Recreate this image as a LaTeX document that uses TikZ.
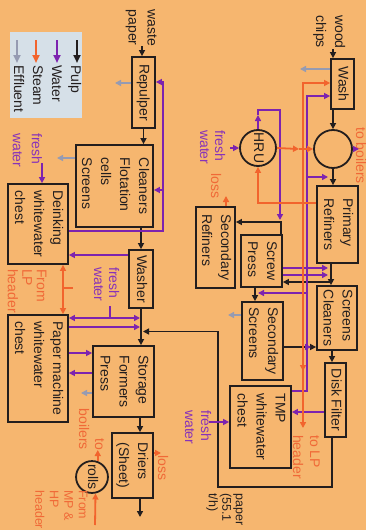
\documentclass[tikz,border=0pt]{standalone}
\usepackage{fontspec}
\setmainfont{Liberation Sans}
\usepackage{graphicx}
\usetikzlibrary{arrows.meta}
\definecolor{bgc}{RGB}{246,182,111}
\definecolor{legbg}{RGB}{214,224,232}
\definecolor{pulpc}{RGB}{35,30,30}
\definecolor{waterc}{RGB}{125,35,175}
\definecolor{steamc}{RGB}{242,100,45}
\definecolor{effc}{RGB}{150,155,178}
\definecolor{steamtxt}{RGB}{240,105,55}
\definecolor{watertxt}{RGB}{135,50,185}
\newcommand{\vt}[2][l]{\rotatebox{-90}{\begin{tabular}{@{}#1@{}}#2\end{tabular}}}
\begin{document}
\begin{tikzpicture}[x=1pt,y=-1pt,
  box/.style={draw=pulpc, line width=1.8pt, inner sep=0pt, text=pulpc, font=\fontsize{14}{19}\selectfont},
  circ/.style={draw=pulpc, line width=1.8pt, circle, inner sep=0pt, text=pulpc, font=\fontsize{14}{19}\selectfont},
  lbl/.style={inner sep=0pt, text=pulpc, font=\fontsize{14}{16}\selectfont},
  wlbl/.style={lbl, text=watertxt},
  slbl/.style={lbl, text=steamtxt},
  flow/.style={line width=1.8pt, -{Triangle[length=6pt,width=6pt]}},
  pulp/.style={flow, draw=pulpc},
  water/.style={flow, draw=waterc},
  steam/.style={flow, draw=steamc},
  eff/.style={flow, line width=1.4pt, draw=effc},
  legarrow/.style={line width=2pt, -{Triangle[length=8pt,width=7pt]}}
]
\useasboundingbox (0,0) rectangle (366,530);
\clip (0,0) rectangle (366,530);
\fill[bgc] (0,0) rectangle (366,530);

\foreach \v in {63,140,218,226,255,281,331,332,333} \coordinate (cx\v) at (\v,0);
\foreach \v in {69,82,83,96,148,149,158,177,190,203,222,231,255,268,275,282,288,293,315,318,327,331,347,353,373,391,393,412,422,450,453} \coordinate (cy\v) at (0,\v);

% legend
\fill[legbg] (10,32) rectangle (82,118);
\node[lbl, font=\fontsize{14}{19}\selectfont, anchor=north] (legtext) at (46.5,65) {\vt{Pulp\\Water\\Steam\\Effluent}};
\coordinate (l1a) at (77,40); \coordinate (l1b) at (77,63);
\coordinate (l2a) at (57,40); \coordinate (l2b) at (57,63);
\coordinate (l3a) at (36,40); \coordinate (l3b) at (36,63);
\coordinate (l4a) at (17,40); \coordinate (l4b) at (17,63);
\draw[legarrow, draw=pulpc] (l1a) -- (l1b);
\draw[legarrow, draw=waterc] (l2a) -- (l2b);
\draw[legarrow, draw=steamc] (l3a) -- (l3b);
\draw[legarrow, draw=effc] (l4a) -- (l4b);

% boxes
\node[box, minimum width=23pt, minimum height=71pt] (repulper) at (143.5,92.5) {\vt{Repulper}};
\node[box, minimum width=77pt, minimum height=82pt] (cleaners) at (114.5,186) {\vt{Cleaners\\Flotation\\cells\\Screens}};
\node[box, minimum width=60pt, minimum height=80pt] (deink) at (38,224) {\vt{Deinking\\whitewater\\chest}};
\node[box, minimum width=24pt, minimum height=58pt] (washer) at (141,279) {\vt{Washer}};
\node[box, minimum width=60pt, minimum height=107pt] (pm) at (38,368.5) {\vt{Paper machine\\whitewater\\chest}};
\node[box, minimum width=61pt, minimum height=71pt] (storage) at (123.5,381.5) {\vt{Storage\\Formers\\Press}};
\node[box, minimum width=41pt, minimum height=65pt] (driers) at (132.5,465.5) {\vt{Driers\\(Sheet)}};
\node[circ, minimum size=30pt] (rolls) at (92,477) {\vt{rolls}};
\node[box, minimum width=23pt, minimum height=50pt] (wash) at (342.5,84) {\vt{Wash}};
\node[circ, minimum size=38pt] (sep) at (333,149) {};
\node[circ, minimum size=36pt] (hru) at (258,148) {\vt{HRU}};
\node[box, minimum width=41pt, minimum height=77pt] (primary) at (337.5,224.5) {\vt{Primary\\Refiners}};
\node[box, minimum width=39pt, minimum height=81pt] (secref) at (215.5,247.5) {\vt{Secondary\\Refiners}};
\node[box, minimum width=41pt, minimum height=52pt] (screw) at (261.5,261) {\vt{Screw\\Press}};
\node[box, minimum width=41pt, minimum height=78pt] (secscr) at (262.5,341) {\vt{Secondary\\Screens}};
\node[box, minimum width=40pt, minimum height=64pt] (screens) at (337,318) {\vt{Screens\\Cleaners}};
\node[box, minimum width=21pt, minimum height=74pt] (disk) at (335.5,400) {\vt{Disk Filter}};
\node[box, minimum width=61pt, minimum height=82pt] (tmp) at (260.5,427) {\vt{TMP\\whitewater\\chest}};

% labels
\node[lbl, font=\fontsize{14}{19}\selectfont] (wastelbl) at (142,28) {\vt{waste\\paper}};
\node[lbl, font=\fontsize{14}{19}\selectfont, anchor=north] (woodlbl) at (329.3,15) {\vt{wood\\chips}};
\node[wlbl, font=\fontsize{14}{19}\selectfont, anchor=north] (fw1lbl) at (26.3,133) {\vt{fresh\\water}};
\node[wlbl, font=\fontsize{14}{15}\selectfont, anchor=north] (fw2lbl) at (104.5,267) {\vt{fresh\\water}};
\node[wlbl, font=\fontsize{14}{15}\selectfont, anchor=north] (fw3lbl) at (210.5,130) {\vt{fresh\\water}};
\node[wlbl, font=\fontsize{14}{16}\selectfont, anchor=north] (fw4lbl) at (196.2,410) {\vt{fresh\\water}};
\node[slbl, font=\fontsize{14}{14.5}\selectfont, anchor=north] (lplbl) at (25.3,269) {\vt{From\\LP\\header}};
\node[slbl, font=\fontsize{14}{17}\selectfont, anchor=north] (tolplbl) at (304.9,435) {\vt{to LP\\header}};
\node[slbl, font=\fontsize{12.5}{14.5}\selectfont, anchor=north] (mphplbl) at (60,490) {\vt{From\\MP \&\\HP\\header}};
\node[slbl, font=\fontsize{14}{16}\selectfont, anchor=south] (toblbl) at (90.2,450) {\vt[r]{to\\boilers}};
\node[slbl, anchor=north] (tob2lbl) at (359.2,127) {\vt{to boilers}};
\node[slbl] (loss1lbl) at (214.2,186) {\vt{loss}};
\node[slbl] (loss2lbl) at (161.2,468) {\vt{loss}};
\node[lbl, font=\fontsize{12.5}{13.5}\selectfont, anchor=north] (paperlbl) at (225,493) {\vt{paper\\(55.1\\t/h)}};

% free ends
\coordinate (t1) at (332,487); \coordinate (t2) at (218,487);
\coordinate (t3) at (218,331.5); \coordinate (t4) at (143,331.5);
\coordinate (pout) at (140,517);
\coordinate (pj) at (331,282); \coordinate (p222) at (281,222);
\coordinate (w1) at (163,231); \coordinate (w2) at (163,82); \coordinate (w3) at (163,190);
\coordinate (fw1) at (42,163);
\coordinate (fwtick) at (110,306); \coordinate (fwj) at (110,318);
\coordinate (w318e) at (140,318); \coordinate (w327e) at (140,327);
\coordinate (v391) at (307,391); \coordinate (v96) at (307,96);
\coordinate (v177) at (307,177); \coordinate (w177e) at (328,177);
\coordinate (w268e) at (328,268); \coordinate (w275e) at (328,275);
\coordinate (v293) at (307,293); \coordinate (w293e) at (258,293);
\coordinate (v347) at (305,347); \coordinate (w347e) at (311,347);
\coordinate (fw4) at (209,422); \coordinate (fw3) at (230,148);
\coordinate (h1) at (258,115); \coordinate (h2) at (258,110);
\coordinate (h3) at (280,110); \coordinate (h4) at (280,220);
\coordinate (tob) at (359,149);
\coordinate (s428) at (303,428); \coordinate (s83) at (303,83);
\coordinate (s362) at (303,362); \coordinate (s371) at (303,371);
\coordinate (s299) at (299,149); \coordinate (s203) at (258,203);
\coordinate (s196) at (226,196);
\coordinate (s288) at (63,288); \coordinate (s288b) at (73,288);
\coordinate (s453) at (161,453);
\coordinate (s525) at (95,525);
\coordinate (e1) at (115,83); \coordinate (e2) at (57,158);
\coordinate (e3) at (81,393); \coordinate (e4) at (300,69);
\coordinate (e5) at (228,315);

% pulp
\draw[pulp] (wastelbl.south) -- (wastelbl.south |- repulper.north);
\draw[pulp] (repulper.south) -- (repulper.south |- cleaners.north);
\draw[pulp] (washer.north |- cleaners.south) -- (washer.north);
\draw[pulp] (washer.south) -- (washer.south |- storage.north);
\draw[pulp] (cx332 |- disk.south) -- (t1) -- (t2) -- (t3) -- (t4);
\draw[pulp] (cx140 |- storage.south) -- (cx140 |- driers.north);
\draw[pulp] (cx140 |- driers.south) -- (pout);
\draw[pulp] (woodlbl.south -| cx333) -- (cx333 |- wash.north);
\draw[pulp] (cx333 |- wash.south) -- (sep.north);
\draw[pulp] (sep.south) -- (cx333 |- primary.north);
\draw[pulp] (cx331 |- primary.south) -- (cx331 |- screens.north);
\draw[pulp] (pj) -- (pj -| screw.east);
\draw[pulp] (cx281 |- screw.north) -- (p222) -- (p222 -| secref.east);
\draw[pulp] (cx255 |- screw.south) -- (cx255 |- secscr.north);
\draw[pulp] (secscr.east |- cy347) -- (screens.west |- cy347);
\draw[pulp] (cx332 |- screens.south) -- (cx332 |- disk.north);

% water
\draw[water] (deink.east |- cy231) -- (w1) -- (w2) -- (w2 -| repulper.east);
\draw[water] (w3) -- (w3 -| cleaners.east);
\draw[water] (fw1) -- (fw1 |- deink.north);
\draw[water] (washer.west |- cy255) -- (deink.east |- cy255);
\draw[water, -] (fwtick) -- (fwj);
\draw[water] (fwj) -- (fwj -| pm.east);
\draw[water] (fwj) -- (w318e);
\draw[water] (pm.east |- cy327) -- (w327e);
\draw[water] (pm.east |- cy353) -- (storage.west |- cy353);
\draw[water] (storage.west |- cy373) -- (pm.east |- cy373);
\draw[water] (tmp.east |- cy391) -- (v391) -- (v96) -- (v96 -| wash.west);
\draw[water] (v177) -- (w177e);
\draw[water] (screw.east |- cy268) -- (w268e);
\draw[water] (screw.east |- cy275) -- (w275e);
\draw[water] (v293) -- (w293e);
\draw[water] (v347) -- (w347e);
\draw[water] (disk.west |- cy412) -- (tmp.east |- cy412);
\draw[water] (fw4) -- (fw4 -| tmp.west);
\draw[water] (fw3) -- (hru.west);
\draw[water] (hru.north) -- (h1);
\draw[water] (h1) -- (h2) -- (h3) -- (h4);
\draw[water] (sep.east) -- (tob);

% steam
\draw[steam, {Triangle[length=6pt,width=6pt]}-{Triangle[length=6pt,width=6pt]}] (s428) -- (s83) -- (s83 -| wash.west);
\draw[steam] (s362) -- (s371);
\draw[steam] (hru.east) -- (s299);
\draw[steam] (s299) -- (sep.west);
\draw[steam] (primary.west |- cy203) -- (s203) -- (hru.south);
\draw[steam] (cx226 |- secref.north) -- (s196);
\draw[steam, {Triangle[length=6pt,width=6pt]}-{Triangle[length=6pt,width=6pt]}] (cx63 |- deink.south) -- (cx63 |- pm.north);
\draw[steam, -] (s288) -- (s288b);
\draw[steam] (driers.east |- cy453) -- (s453);
\draw[steam] (rolls.70) -- (rolls.70 |- cy450);
\draw[steam] (s525) -- (rolls.-78);

% effluent
\draw[eff] (repulper.west |- cy83) -- (e1);
\draw[eff] (cleaners.west |- cy158) -- (e2);
\draw[eff] (storage.west |- cy393) -- (e3);
\draw[eff] (wash.west |- cy69) -- (e4);
\draw[eff] (secscr.west |- cy315) -- (e5);
\end{tikzpicture}
\end{document}
